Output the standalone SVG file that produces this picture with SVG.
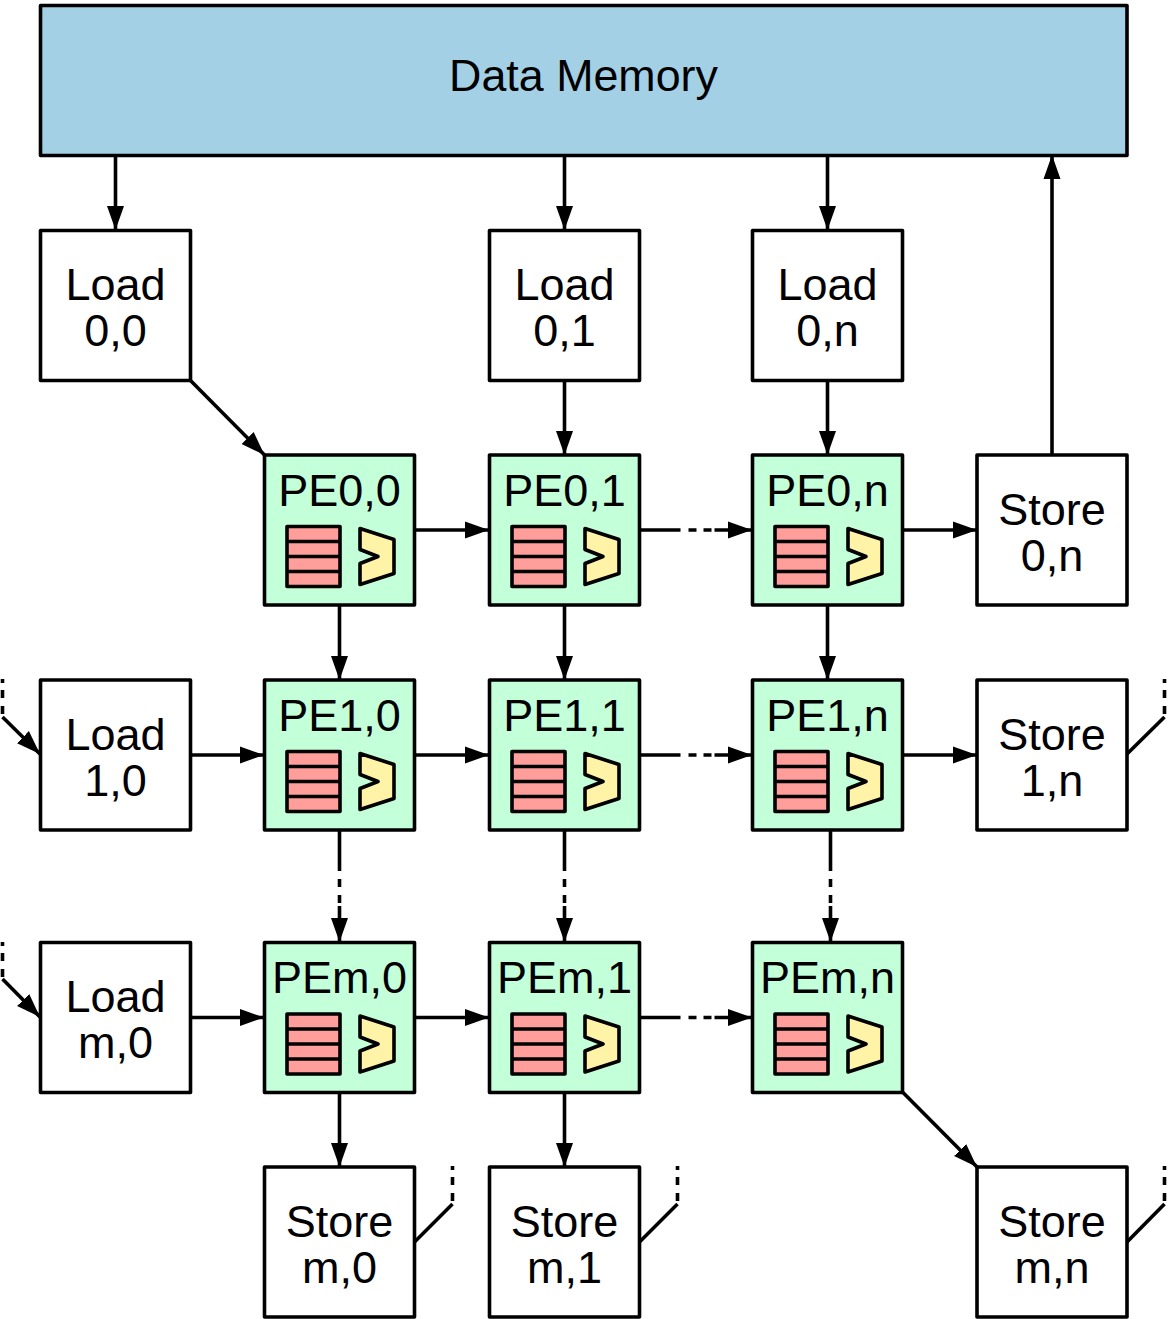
<svg xmlns="http://www.w3.org/2000/svg" xmlns:xlink="http://www.w3.org/1999/xlink" width="1170" height="1319" viewBox="0 0 1170 1319">
<style>
.b{stroke:#000;stroke-width:3.600;stroke-linejoin:round}
.w{fill:#fff}.g{fill:#c3ffd9}
.c path{fill:none;stroke:#000;stroke-width:3.600;stroke-linejoin:round}
.a{marker-end:url(#arr)}
.h{stroke-dasharray:41 8 8 7 8 3 200}
.v{stroke-dasharray:41 8 8 8 8 3 200}
.d{stroke-dasharray:4 7 8 8 8 200}
text{font-family:"Liberation Sans",Arial,sans-serif;font-size:45px;text-anchor:middle;fill:#000}
</style>
<defs>
<marker id="arr" markerUnits="userSpaceOnUse" markerWidth="26" markerHeight="18" refX="24" refY="8.5" orient="auto" viewBox="0 0 26 17"><path d="M0 0L24 8.5L0 17z" fill="#000"/></marker>
<g id="parts">
<rect x="23" y="71.500" width="53" height="60" fill="#ff9e9a" class="b"/>
<path d="M23 86.500H76M23 101.500H76M23 116.500H76" class="b" fill="none"/>
<path d="M96 73.500L130 84.500V118.500L96 129.500V108.500L114 101.500L96 94.500z" fill="#fff3a8" class="b"/>
</g>
</defs>
<g id="connectors" class="c">
<path class="a" d="M115.500 155V230"/>
<path class="a" d="M564.500 155V230"/>
<path class="a" d="M827.500 155V230"/>
<path class="a" d="M1052 455V155"/>
<path class="a" d="M190.500 380.500L264.500 455"/>
<path class="a" d="M564.500 380.500V455"/>
<path class="a" d="M827.500 380.500V455"/>
<path class="a" d="M414.500 530H489"/>
<path class="a h" d="M639.500 530H752"/>
<path class="a" d="M902.500 530H977"/>
<path class="a" d="M339.500 605V680"/>
<path class="a" d="M564.500 605V680"/>
<path class="a" d="M827.500 605V680"/>
<path class="a" d="M190.500 755H264"/>
<path class="a" d="M414.500 755H489"/>
<path class="a h" d="M639.500 755H752"/>
<path class="a" d="M902.500 755H977"/>
<path class="a v" d="M339.500 830V942"/>
<path class="a v" d="M564.500 830V942"/>
<path class="a v" d="M830.500 830V942"/>
<path class="a" d="M190.500 1017.500H264"/>
<path class="a" d="M414.500 1017.500H489"/>
<path class="a h" d="M639.500 1017.500H752"/>
<path class="a" d="M339.500 1092V1167"/>
<path class="a" d="M564.500 1092V1167"/>
<path class="a" d="M902.500 1092L977 1167"/>
<path class="d" d="M2.500 679V717"/>
<path class="a" d="M2.500 717L40 754"/>
<path class="d" d="M2.500 942V979"/>
<path class="a" d="M2.500 979L40 1017"/>
<path class="d" d="M1164.500 679V717"/>
<path d="M1164.500 717L1127 754"/>
<path class="d" d="M452.500 1166V1204"/>
<path d="M452.500 1204L414.500 1242"/>
<path class="d" d="M677.500 1166V1204"/>
<path d="M677.500 1204L639.500 1242"/>
<path class="d" d="M1164.500 1166V1204"/>
<path d="M1164.500 1204L1127 1242"/>
</g>
<g id="memory"><rect x="40.500" y="5.500" width="1086.500" height="150" fill="#a3d0e5" class="b"/><text x="583.500" y="91" style="font-size:44.800px">Data Memory</text></g>
<g id="load00"><rect class="b w" x="40.500" y="230.500" width="150" height="150"/><text x="115.500" y="300">Load</text><text x="115.500" y="346">0,0</text></g>
<g id="load01"><rect class="b w" x="489.500" y="230.500" width="150" height="150"/><text x="564.500" y="300">Load</text><text x="564.500" y="346">0,1</text></g>
<g id="load0n"><rect class="b w" x="752.500" y="230.500" width="150" height="150"/><text x="827.500" y="300">Load</text><text x="827.500" y="346">0,n</text></g>
<g id="pe00"><rect class="b g" x="264.500" y="455" width="150" height="150"/><text x="339.500" y="506">PE0,0</text><use xlink:href="#parts" href="#parts" x="264" y="455"/></g>
<g id="pe01"><rect class="b g" x="489.500" y="455" width="150" height="150"/><text x="564.500" y="506">PE0,1</text><use xlink:href="#parts" href="#parts" x="489" y="455"/></g>
<g id="pe0n"><rect class="b g" x="752.500" y="455" width="150" height="150"/><text x="827.500" y="506">PE0,n</text><use xlink:href="#parts" href="#parts" x="752" y="455"/></g>
<g id="store0n"><rect class="b w" x="977" y="455" width="150" height="150"/><text x="1052" y="525">Store</text><text x="1052" y="571">0,n</text></g>
<g id="load10"><rect class="b w" x="40.500" y="680" width="150" height="150"/><text x="115.500" y="750">Load</text><text x="115.500" y="796">1,0</text></g>
<g id="pe10"><rect class="b g" x="264.500" y="680" width="150" height="150"/><text x="339.500" y="731">PE1,0</text><use xlink:href="#parts" href="#parts" x="264" y="680"/></g>
<g id="pe11"><rect class="b g" x="489.500" y="680" width="150" height="150"/><text x="564.500" y="731">PE1,1</text><use xlink:href="#parts" href="#parts" x="489" y="680"/></g>
<g id="pe1n"><rect class="b g" x="752.500" y="680" width="150" height="150"/><text x="827.500" y="731">PE1,n</text><use xlink:href="#parts" href="#parts" x="752" y="680"/></g>
<g id="store1n"><rect class="b w" x="977" y="680" width="150" height="150"/><text x="1052" y="750">Store</text><text x="1052" y="796">1,n</text></g>
<g id="loadm0"><rect class="b w" x="40.500" y="942.500" width="150" height="150"/><text x="115.500" y="1012">Load</text><text x="115.500" y="1058">m,0</text></g>
<g id="pem0"><rect class="b g" x="264.500" y="942.500" width="150" height="150"/><text x="339.500" y="993">PEm,0</text><use xlink:href="#parts" href="#parts" x="264" y="942.500"/></g>
<g id="pem1"><rect class="b g" x="489.500" y="942.500" width="150" height="150"/><text x="564.500" y="993">PEm,1</text><use xlink:href="#parts" href="#parts" x="489" y="942.500"/></g>
<g id="pemn"><rect class="b g" x="752.500" y="942.500" width="150" height="150"/><text x="827.500" y="993">PEm,n</text><use xlink:href="#parts" href="#parts" x="752" y="942.500"/></g>
<g id="storem0"><rect class="b w" x="264.500" y="1167" width="150" height="150"/><text x="339.500" y="1237">Store</text><text x="339.500" y="1283">m,0</text></g>
<g id="storem1"><rect class="b w" x="489.500" y="1167" width="150" height="150"/><text x="564.500" y="1237">Store</text><text x="564.500" y="1283">m,1</text></g>
<g id="storemn"><rect class="b w" x="977" y="1167" width="150" height="150"/><text x="1052" y="1237">Store</text><text x="1052" y="1283">m,n</text></g>
</svg>
